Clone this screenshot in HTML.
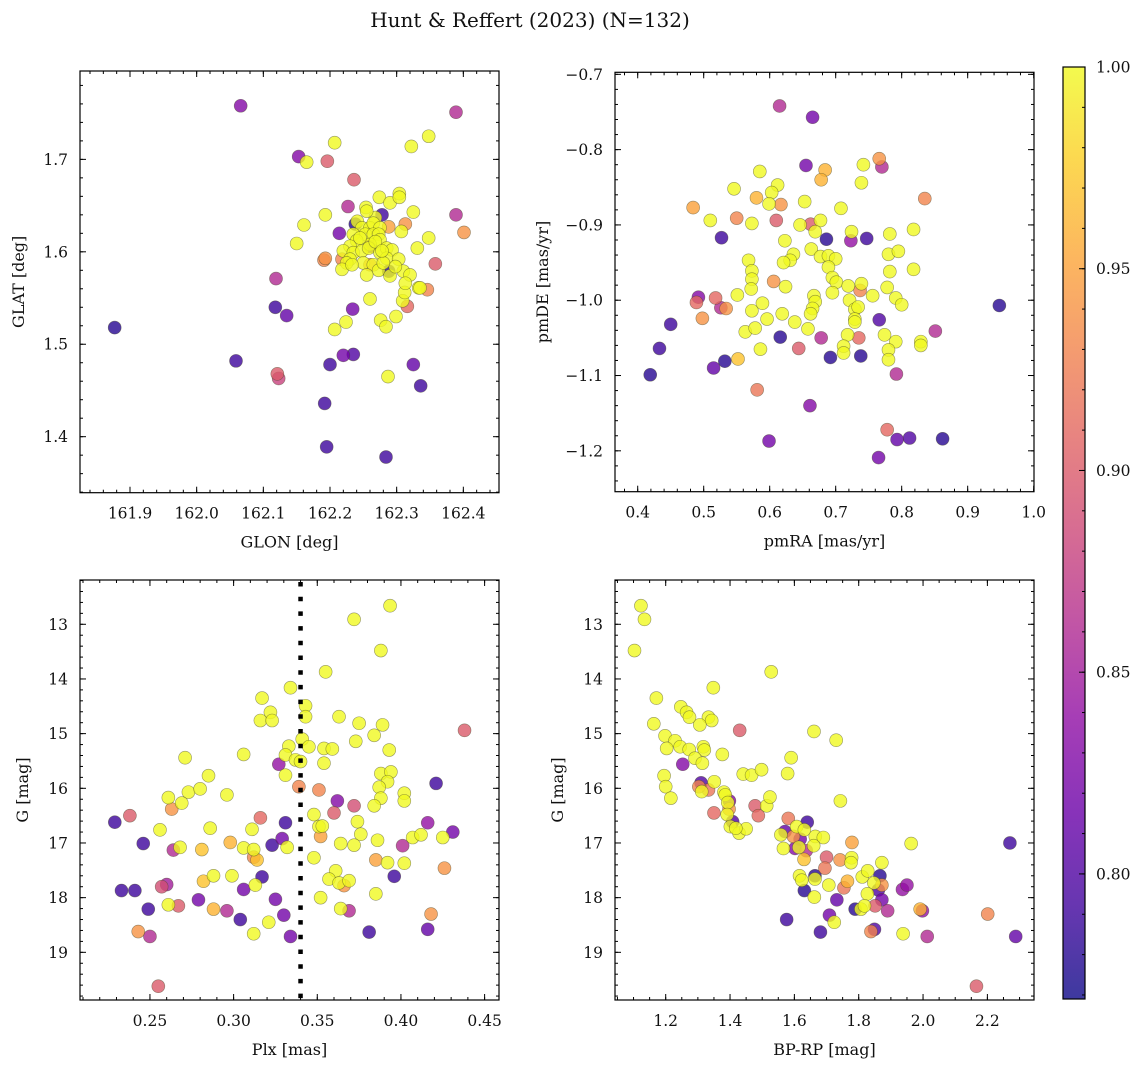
<!DOCTYPE html>
<html><head><meta charset="utf-8"><style>
html,body{margin:0;padding:0;background:#fff;}
svg{display:block;font-family:"DejaVu Serif","Liberation Serif",serif;}
</style></head><body>
<svg id="fig" width="1148" height="1067" viewBox="0 0 1148 1067" xmlns="http://www.w3.org/2000/svg">
<defs>
<linearGradient id="cbgrad" x1="0" y1="1" x2="0" y2="0">
<stop offset="0" stop-color="#0d0887"/><stop offset="0.1" stop-color="#41049d"/><stop offset="0.2" stop-color="#6a00a8"/><stop offset="0.3" stop-color="#8f0da4"/><stop offset="0.4" stop-color="#b12a90"/><stop offset="0.5" stop-color="#cc4778"/><stop offset="0.6" stop-color="#e16462"/><stop offset="0.7" stop-color="#f2844b"/><stop offset="0.8" stop-color="#fca636"/><stop offset="0.9" stop-color="#fcce25"/><stop offset="1" stop-color="#f0f921"/>
</linearGradient>
</defs>
<text x="530" y="27" font-size="20" text-anchor="middle" fill="#111">Hunt &amp; Reffert (2023) (N=132)</text>
</svg>
<script>
// ---- Panel 1: GLON vs GLAT ----
const glonVals=[162.066,162.389,162.207,162.322,162.348,162.153,162.165,162.196,162.236,162.274,162.290,162.304,162.304,162.227,162.254,162.325,162.193,162.268,162.389,162.161,162.238,162.241,162.313,162.288,162.401,162.214,162.307,162.348,162.150,162.331,162.193,162.191,162.358,162.119,162.118,162.135,162.234,162.260,162.316,162.309,162.346,162.333,162.312,162.299,162.276,162.284,162.224,162.207,161.877,162.059,162.200,162.220,162.235,162.325,162.287,162.336,162.121,162.123,162.192,162.195,162.284,
162.255,162.248,162.260,162.265,162.275,162.253,162.265,162.273,162.275,162.235,162.240,162.230,162.220,162.235,162.248,162.260,162.258,162.275,162.285,162.293,162.285,162.303,162.250,162.265,162.273,162.255,162.290,162.310,162.320,162.335,162.313,162.230,162.225,162.218,162.233,162.218,162.260,162.288,162.278,162.260,162.298,162.280,162.245,162.268,162.278];
const glatVals=[1.758,1.751,1.718,1.714,1.725,1.703,1.697,1.698,1.678,1.659,1.653,1.663,1.659,1.649,1.648,1.643,1.640,1.637,1.640,1.629,1.630,1.633,1.630,1.627,1.621,1.620,1.622,1.615,1.609,1.604,1.593,1.591,1.587,1.571,1.540,1.531,1.538,1.549,1.541,1.547,1.559,1.561,1.556,1.530,1.526,1.519,1.524,1.516,1.518,1.482,1.478,1.488,1.489,1.478,1.465,1.455,1.468,1.463,1.436,1.389,1.378,
1.644,1.626,1.626,1.631,1.626,1.619,1.619,1.619,1.613,1.619,1.612,1.606,1.601,1.599,1.601,1.608,1.604,1.599,1.604,1.602,1.593,1.592,1.588,1.586,1.580,1.575,1.574,1.579,1.575,1.561,1.566,1.592,1.588,1.581,1.586,1.592,1.586,1.579,1.640,1.606,1.584,1.588,1.615,1.611,1.601];
const prob1=[.83,.86,1,1,1,.83,1,.90,.90,1,1,1,1,.86,1,1,1,1,.86,1,.78,1,.94,.95,.94,.82,1,1,1,1,.94,.93,.90,.86,.79,.81,.82,1,.91,1,.93,1,1,1,1,1,1,1,.78,.79,.79,.82,.80,.81,1,.79,.90,.88,.79,.79,.79,
1,1,1,1,1,1,1,1,1,1,1,1,1,1,1,1,1,1,1,1,1,1,1,1,1,1,1,1,1,1,1,1,1,1,1,.93,.94,.78,.79,.82,1,1,1,1,1];
// ---- Panel 2: pmRA vs pmDE ----
const pmraVals=[0.615,0.665,0.655,0.684,0.678,0.585,0.742,0.766,0.770,0.739,0.546,0.612,0.603,0.580,0.599,0.617,0.653,0.835,0.484,0.708,0.510,0.550,0.573,0.610,0.646,0.662,0.677,0.669,0.818,0.782,0.527,0.686,0.724,0.723,0.747,0.623,0.780,0.795,0.636,0.631,0.621,0.663,0.677,0.689,0.700,0.689,0.568,0.573,0.573,0.572,0.818,0.782,0.695,0.701,0.719,0.739,0.737,0.606,0.624,0.695,0.778,0.756,0.551,0.667,0.669,0.665,0.662,0.721,0.729,0.734,0.791,0.800,0.948,0.492,0.489,0.518,0.526,0.534,0.589,0.573,0.619,0.498,0.450,0.596,0.638,0.729,0.729,0.766,0.563,0.578,0.658,0.851,0.616,0.678,0.718,0.735,0.774,0.791,0.829,0.829,0.433,0.644,0.586,0.712,0.712,0.780,0.780,0.738,0.692,0.532,0.552,0.515,0.419,0.792,0.581,0.661,0.778,0.599,0.793,0.812,0.862,0.765];
const pmdeVals=[-0.742,-0.757,-0.821,-0.827,-0.840,-0.829,-0.820,-0.812,-0.823,-0.844,-0.852,-0.847,-0.857,-0.864,-0.872,-0.873,-0.869,-0.865,-0.877,-0.878,-0.894,-0.891,-0.898,-0.894,-0.900,-0.899,-0.894,-0.909,-0.906,-0.912,-0.917,-0.919,-0.909,-0.921,-0.918,-0.921,-0.939,-0.935,-0.939,-0.947,-0.950,-0.932,-0.942,-0.941,-0.945,-0.956,-0.947,-0.961,-0.972,-0.985,-0.959,-0.962,-0.970,-0.976,-0.981,-0.978,-0.987,-0.975,-0.982,-0.990,-0.983,-0.994,-0.993,-0.994,-1.002,-1.011,-1.018,-1.000,-1.012,-1.009,-0.997,-1.006,-1.007,-0.996,-1.003,-0.997,-1.010,-1.011,-1.004,-1.014,-1.018,-1.024,-1.032,-1.025,-1.029,-1.025,-1.029,-1.026,-1.042,-1.037,-1.038,-1.041,-1.049,-1.050,-1.046,-1.050,-1.046,-1.055,-1.055,-1.060,-1.064,-1.064,-1.065,-1.061,-1.070,-1.066,-1.079,-1.074,-1.076,-1.081,-1.078,-1.090,-1.099,-1.098,-1.119,-1.140,-1.172,-1.187,-1.185,-1.183,-1.184,-1.209];
const prob2=[.86,.82,.82,.96,.96,1,1,.94,.86,1,1,1,1,.96,1,.94,1,.93,.95,1,1,.93,1,.90,1,.90,1,1,1,1,.79,.78,1,.84,.79,1,1,1,1,1,1,1,1,1,1,1,1,1,1,1,1,1,1,1,1,1,.93,.94,1,1,1,1,1,1,1,1,1,1,1,1,1,1,.78,.83,.91,.91,.86,.94,1,1,1,.94,.79,1,1,1,1,.80,1,1,1,.86,.78,.86,1,.91,1,1,1,1,.79,.90,1,1,1,1,1,.78,.78,.78,.97,.81,.78,.86,.92,.83,.91,.82,.81,.80,.78,.82];
// ---- Panel 3: Plx vs G ----
const plxVals=[0.3935,0.372,0.388,0.355,0.334,0.317,0.322,0.316,0.323,0.343,0.343,0.363,0.375,0.389,0.384,0.373,0.438,0.341,0.345,0.333,0.331,0.337,0.340,0.354,0.359,0.354,0.393,0.327,0.306,0.271,0.331,0.285,0.388,0.394,0.392,0.387,0.421,0.273,0.280,0.296,0.261,0.269,0.339,0.351,0.388,0.402,0.402,0.384,0.263,0.362,0.372,0.360,0.238,0.229,0.316,0.331,0.348,0.351,0.353,0.374,0.376,0.352,0.416,0.431,0.407,0.412,0.425,0.256,0.286,0.311,0.329,0.323,0.332,0.364,0.372,0.386,0.401,0.246,0.264,0.268,0.281,0.298,0.306,0.312,0.312,0.314,0.348,0.385,0.392,0.402,0.426,0.361,0.357,0.363,0.366,0.369,0.396,0.317,0.288,0.299,0.282,0.313,0.306,0.233,0.241,0.257,0.260,0.385,0.352,0.279,0.325,0.249,0.261,0.267,0.288,0.296,0.364,0.369,0.418,0.304,0.330,0.321,0.312,0.334,0.381,0.416,0.243,0.250,0.255];
const gPlxVals=[12.66,12.91,13.48,13.87,14.16,14.35,14.61,14.76,14.76,14.49,14.69,14.69,14.81,14.84,15.03,15.14,14.94,15.10,15.24,15.23,15.39,15.48,15.51,15.27,15.28,15.54,15.30,15.56,15.38,15.44,15.76,15.77,15.73,15.70,15.88,15.98,15.91,16.07,16.01,16.12,16.17,16.27,15.97,16.03,16.18,16.09,16.23,16.32,16.38,16.23,16.32,16.45,16.50,16.62,16.54,16.63,16.48,16.70,16.69,16.61,16.84,16.88,16.63,16.80,16.90,16.85,16.90,16.76,16.73,16.75,16.92,17.04,17.08,17.01,17.04,16.95,17.05,17.01,17.13,17.08,17.12,16.99,17.09,17.12,17.26,17.31,17.27,17.31,17.36,17.37,17.46,17.51,17.66,17.73,17.78,17.69,17.61,17.62,17.60,17.60,17.70,17.77,17.85,17.87,17.87,17.80,17.76,17.93,18.00,18.04,18.03,18.21,18.13,18.15,18.21,18.24,18.20,18.24,18.30,18.40,18.32,18.45,18.66,18.71,18.63,18.58,18.62,18.71,19.62];
const prob3=[1,1,1,1,1,1,1,1,1,1,1,1,1,1,1,1,.90,1,1,1,1,1,1,1,1,1,1,.84,1,1,1,1,1,1,1,1,.79,1,1,1,1,1,.93,.93,1,1,1,1,.94,.83,.89,.90,.90,.79,.91,.79,1,1,1,1,1,.95,.84,.82,1,1,1,1,1,1,.82,.79,1,1,1,1,.86,.79,.86,1,.97,.96,1,1,.93,.97,1,.95,1,1,.94,1,1,1,.94,1,.79,.79,1,1,.97,1,.82,.79,.79,.89,.85,1,1,.82,.82,.79,1,.90,.96,.86,1,.86,.94,.79,.82,1,1,.82,.79,.81,.94,.86,.90];
// ---- Panel 4: BP-RP vs G ----
const bprpVals=[1.123,1.134,1.103,1.528,1.348,1.171,1.247,1.265,1.274,1.333,1.343,1.306,1.163,1.430,1.661,1.730,1.198,1.229,1.245,1.203,1.273,1.317,1.320,1.291,1.314,1.376,1.590,1.253,1.195,1.200,1.216,1.441,1.467,1.498,1.579,1.310,1.303,1.333,1.351,1.312,1.381,1.398,1.397,1.350,1.385,1.393,1.478,1.488,1.514,1.524,1.743,1.391,1.408,1.401,1.428,1.450,1.418,1.581,1.640,1.607,1.631,1.571,1.558,1.597,1.618,1.665,1.690,1.566,1.602,1.614,1.660,1.637,1.779,1.963,2.270,1.630,1.700,1.742,1.778,1.776,1.872,1.695,1.616,1.623,1.664,1.664,1.631,1.662,1.707,1.765,1.754,1.811,1.828,1.866,1.872,1.847,1.861,1.827,1.936,1.950,1.732,1.872,1.789,1.807,1.818,1.851,1.890,1.991,1.998,2.201,1.576,1.709,1.724,1.681,1.838,1.849,1.938,2.013,2.288,2.166];
const gCmdVals=[12.66,12.91,13.48,13.87,14.16,14.35,14.51,14.61,14.70,14.70,14.76,14.84,14.82,14.94,14.96,15.12,15.04,15.13,15.24,15.27,15.29,15.24,15.30,15.45,15.54,15.38,15.44,15.56,15.77,15.97,16.18,15.74,15.76,15.66,15.73,15.90,15.97,16.03,15.88,16.06,16.07,16.23,16.38,16.45,16.12,16.26,16.32,16.50,16.32,16.16,16.23,16.48,16.61,16.70,16.82,16.74,16.73,16.55,16.62,16.70,16.76,16.79,16.85,16.88,16.93,16.88,16.90,17.10,17.10,17.08,17.05,17.14,16.99,17.01,17.00,17.30,17.26,17.31,17.27,17.36,17.36,17.46,17.60,17.68,17.60,17.66,17.87,17.99,17.77,17.70,17.82,17.62,17.51,17.60,17.77,17.73,17.86,17.93,17.85,17.77,18.04,18.04,18.21,18.21,18.15,18.15,18.24,18.21,18.24,18.30,18.40,18.32,18.45,18.63,18.62,18.58,18.66,18.71,18.71,19.62];
const prob4=[1,1,1,1,1,1,1,1,1,1,1,1,1,.90,1,1,1,1,1,1,1,1,1,1,1,1,1,.83,1,1,1,1,1,1,1,.80,.93,.92,1,1,1,.83,.94,.91,1,1,.90,.91,1,1,1,1,.80,1,1,1,1,.92,.79,1,1,.81,1,.94,.82,1,1,1,.83,1,1,.86,.95,1,.79,.97,.90,.94,1,1,1,.92,1,1,.78,1,.78,1,1,.96,.92,1,1,.78,.94,1,.80,1,.84,.84,.81,.82,.78,1,1,.90,.86,.96,.84,.93,.79,.82,1,.79,.93,.80,1,.86,.81,.90];
// ---- Tick labels ----
const ticks1x=[161.9,162.0,162.1,162.2,162.3,162.4];
const ticks1y=[1.4,1.5,1.6,1.7];
const ticks2x=[0.4,0.5,0.6,0.7,0.8,0.9,1.0];
const ticks2y=[-1.2,-1.1,-1.0,-0.9,-0.8,-0.7];
const ticks3x=[0.25,0.30,0.35,0.40,0.45];
const ticksGy=[13,14,15,16,17,18,19];
const ticks4x=[1.2,1.4,1.6,1.8,2.0,2.2];
const ticksCb=[0.80,0.85,0.90,0.95,1.00];
const plxLine=0.34;
const probMin=0.769, probMax=1.0;

const NS="http://www.w3.org/2000/svg";
const svg=document.getElementById('fig');
function mk(tag,attrs,parent){const e=document.createElementNS(NS,tag);for(const k in attrs)e.setAttribute(k,attrs[k]);(parent||svg).appendChild(e);return e;}

const stops=[[0,[13,8,135]],[.1,[65,4,157]],[.2,[106,0,168]],[.3,[143,13,164]],[.4,[177,42,144]],[.5,[204,71,120]],[.6,[225,100,98]],[.7,[242,132,75]],[.8,[252,166,54]],[.9,[252,206,37]],[1,[240,249,33]]];
function plasma(t){t=Math.max(0,Math.min(1,t));for(let i=1;i<stops.length;i++){if(t<=stops[i][0]){const a=stops[i-1],b=stops[i];const f=(t-a[0])/(b[0]-a[0]);const c=a[1].map((v,j)=>Math.round(v+(b[1][j]-v)*f));return 'rgb('+c.join(',')+')';}}return 'rgb(240,249,33)';}

function panel(cfg){
  const g=mk('g',{});
  
  
  const {L,R,T,B,x0,x1,y0,y1,inv}=cfg;
  const sx=v=>L+(v-x0)/(x1-x0)*(R-L);
  const sy=inv?(v=>T+(v-y0)/(y1-y0)*(B-T)):(v=>B-(v-y0)/(y1-y0)*(B-T));
  // points sorted by prob
  const idx=cfg.xs.map((_,i)=>i).sort((a,b)=>cfg.ps[a]-cfg.ps[b]);
  const pg=mk('g',{},g);
  
  
  idx.forEach(i=>{
    const c=mk('circle',{cx:sx(cfg.xs[i]).toFixed(2),cy:sy(cfg.ys[i]).toFixed(2),r:6.5,fill:plasma((cfg.ps[i]-probMin)/(probMax-probMin)),'fill-opacity':0.8,stroke:'rgba(70,70,40,0.55)','stroke-width':0.6},pg);
    
    
  });
  if(cfg.vline!==undefined){
    const l=mk('line',{x1:sx(cfg.vline),x2:sx(cfg.vline),y1:T+2,y2:B,stroke:'#000','stroke-width':4.5,'stroke-dasharray':'4.5 10.2'},g);
    
    
  }
  // frame
  const fr=mk('rect',{x:L,y:T,width:R-L,height:B-T,fill:'none',stroke:'#000','stroke-width':1.2},g);
  
  
  // minor ticks
  const tk=mk('g',{stroke:'#000','stroke-width':1},g);
  const eps=1e-9;
  for(let v=Math.ceil(x0/cfg.mx-eps)*cfg.mx; v<=x1+eps; v+=cfg.mx){const X=sx(v);mk('line',{x1:X,x2:X,y1:B,y2:B-3},tk);mk('line',{x1:X,x2:X,y1:T,y2:T+3},tk);}
  const ylo=Math.min(y0,y1), yhi=Math.max(y0,y1);
  for(let v=Math.ceil(ylo/cfg.my-eps)*cfg.my; v<=yhi+eps; v+=cfg.my){const Y=sy(v);mk('line',{x1:L,x2:L+3,y1:Y,y2:Y},tk);mk('line',{x1:R,x2:R-3,y1:Y,y2:Y},tk);}
  cfg.tx.forEach(v=>{const X=sx(v);mk('line',{x1:X,x2:X,y1:B,y2:B-6},tk);mk('line',{x1:X,x2:X,y1:T,y2:T+6},tk);
    const t=mk('text',{x:X,y:B+26,'font-size':15.5,'text-anchor':'middle',fill:'#111'},g);t.textContent=cfg.fx(v);
    
    });
  cfg.ty.forEach(v=>{const Y=sy(v);mk('line',{x1:L,x2:L+6,y1:Y,y2:Y},tk);mk('line',{x1:R,x2:R-6,y1:Y,y2:Y},tk);
    const t=mk('text',{x:L-12,y:Y+5.5,'font-size':15.5,'text-anchor':'end',fill:'#111'},g);t.textContent=cfg.fy(v);
    
    });
  const xl=mk('text',{x:(L+R)/2,y:B+55,'font-size':16,'text-anchor':'middle',fill:'#111'},g);xl.textContent=cfg.xlab;
  
  
  const yx=cfg.ylx, yc=(T+B)/2;
  const yl=mk('text',{x:yx,y:yc,'font-size':16,'text-anchor':'middle',fill:'#111',transform:'rotate(-90 '+yx+' '+yc+')'},g);yl.textContent=cfg.ylab;
  
  
}
const minus=s=>s.replace('-','\u2212');
panel({name:'glon-glat-panel',L:80,R:499,T:71,B:492.7,x0:161.825,x1:162.4535,y0:1.3394,y1:1.7956,xs:glonVals,ys:glatVals,ps:prob1,tx:ticks1x,ty:ticks1y,mx:0.02,my:0.02,fx:v=>v.toFixed(1),fy:v=>v.toFixed(1),xlab:'GLON [deg]',ylab:'GLAT [deg]',ylx:24});
panel({name:'pm-panel',L:615,R:1034,T:72.3,B:491.7,x0:0.3656,x1:1.0005,y0:-1.2543,y1:-0.6973,xs:pmraVals,ys:pmdeVals,ps:prob2,tx:ticks2x,ty:ticks2y,mx:0.02,my:0.02,fx:v=>v.toFixed(1),fy:v=>minus(v.toFixed(1)),xlab:'pmRA [mas/yr]',ylab:'pmDE [mas/yr]',ylx:548});
panel({name:'plx-g-panel',L:80,R:499,T:580,B:1000,x0:0.2082,x1:0.4586,y0:12.19,y1:19.872,inv:true,xs:plxVals,ys:gPlxVals,ps:prob3,tx:ticks3x,ty:ticksGy,mx:0.01,my:0.2,fx:v=>v.toFixed(2),fy:v=>String(v),xlab:'Plx [mas]',ylab:'G [mag]',ylx:28,vline:plxLine});
panel({name:'cmd-panel',L:615,R:1034,T:580,B:1000,x0:1.0424,x1:2.3449,y0:12.19,y1:19.872,inv:true,xs:bprpVals,ys:gCmdVals,ps:prob4,tx:ticks4x,ty:ticksGy,mx:0.05,my:0.2,fx:v=>v.toFixed(1),fy:v=>String(v),xlab:'BP-RP [mag]',ylab:'G [mag]',ylx:563});

// colorbar
const cb=mk('g',{});


const cL=1063,cR=1085,cT=67,cB=999;
mk('rect',{x:cL,y:cT,width:cR-cL,height:cB-cT,fill:'url(#cbgrad)','fill-opacity':0.8},cb);
mk('rect',{x:cL,y:cT,width:cR-cL,height:cB-cT,fill:'none',stroke:'#000','stroke-width':1.2},cb);
const cy=v=>cB-(v-probMin)/(probMax-probMin)*(cB-cT);
for(let v=0.77;v<=1.0001;v+=0.01){const Y=cy(v);mk('line',{x1:cR,x2:cR-3,y1:Y,y2:Y,stroke:'#000','stroke-width':1},cb);}
ticksCb.forEach(v=>{const Y=cy(v);mk('line',{x1:cR,x2:cR-6,y1:Y,y2:Y,stroke:'#000','stroke-width':1},cb);
  const t=mk('text',{x:1096,y:Y+5.5,'font-size':15.5,fill:'#111'},cb);t.textContent=v.toFixed(2);
  
  });
</script>
</body></html>
